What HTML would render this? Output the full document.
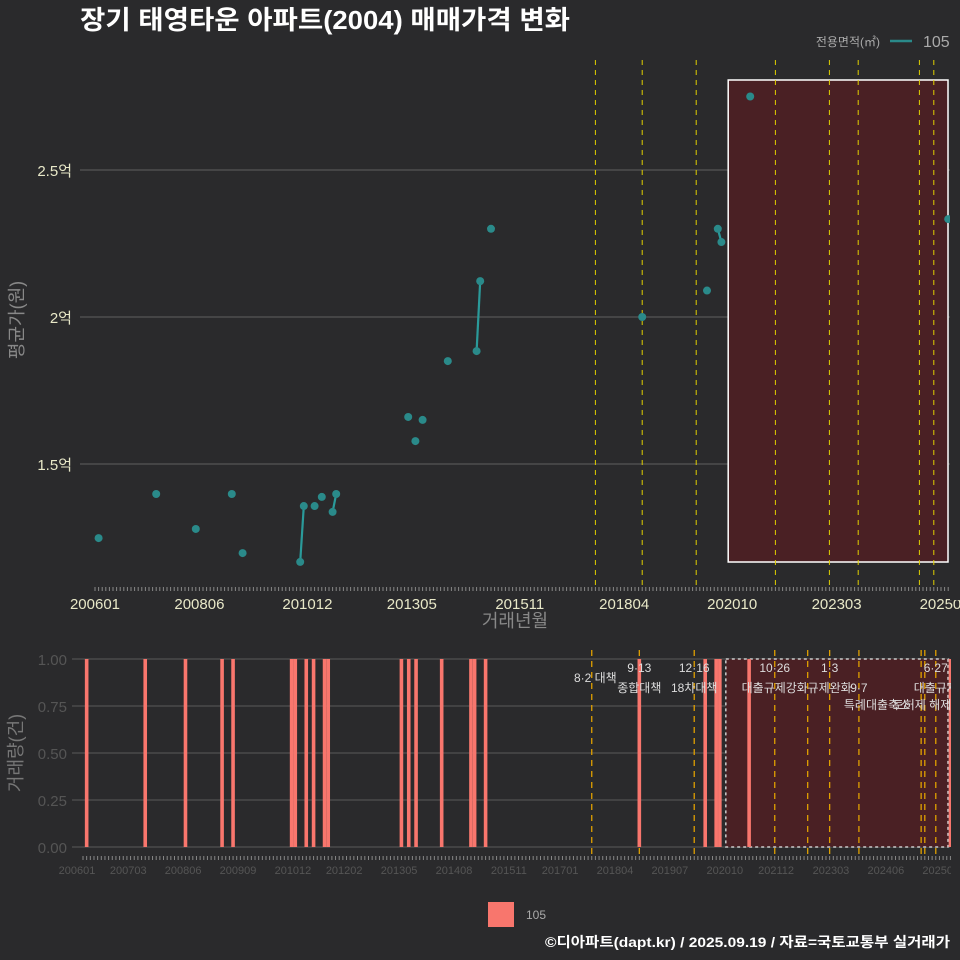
<!DOCTYPE html>
<html><head><meta charset="utf-8">
<style>
html,body{margin:0;padding:0;background:#2a2a2c;}
svg{display:block;font-family:"Liberation Sans","Noto Sans CJK KR",sans-serif;}
</style></head>
<body>
<svg id="c" width="960" height="960" viewBox="0 0 960 960" xmlns="http://www.w3.org/2000/svg">
<rect width="960" height="960" fill="#2a2a2c"/>
<text x="80" y="29" fill="#ffffff" font-size="26" font-weight="bold" textLength="490" lengthAdjust="spacingAndGlyphs">장기 태영타운 아파트(2004) 매매가격 변화</text>
<g>
<text x="880" y="46" fill="#aaaaaa" font-size="12" text-anchor="end">전용면적(㎡)</text>
<line x1="890" y1="41" x2="912" y2="41" stroke="#2a8a8a" stroke-width="2.5"/>
<text x="923" y="47" fill="#aaaaaa" font-size="16">105</text>
</g>
<g id="topPanel"></g>
<g id="botPanel"></g>
<g>
<rect x="488" y="902" width="26" height="25" fill="#f8766d"/>
<text x="526" y="919" fill="#aaaaaa" font-size="12">105</text>
</g>
<text x="950" y="947" fill="#ffffff" font-size="14" font-weight="bold" text-anchor="end" textLength="405" lengthAdjust="spacingAndGlyphs">©디아파트(dapt.kr) / 2025.09.19 / 자료=국토교통부 실거래가</text>
</svg>
<script>
// month index from 2006-01
const tradeMonths = [1,17,28,38,41,57,58,61,63,66,67,87,89,91,98,106,107,110,152,170,173,174,182,237];
const tradePrices = [1.248,1.398,1.279,1.398,1.197,1.167,1.357,1.357,1.388,1.337,1.398,1.66,1.578,1.65,1.85,1.884,2.122,2.30,2.0,2.09,2.30,2.255,2.75,2.333];
const tradeCounts = [1,1,1,1,1,1,1,1,1,1,1,1,1,1,1,1,1,1,1,1,1,1,1,1];
const priceTicks = [1.5,2,2.5];
const priceTickLabels = ["1.5억","2억","2.5억"];
const volTicks = [0,0.25,0.5,0.75,1];
const volTickLabels = ["0.00","0.25","0.50","0.75","1.00"];
const topLabelMonths = [0,29,59,88,118,147,177,206,236];
const topLabels = ["200601","200806","201012","201305","201511","201804","202010","202303","202509"];
const botLabelMonths = [0,14,29,44,59,73,88,103,118,132,147,162,177,191,206,221,236];
const botLabels = ["200601","200703","200806","200909","201012","201202","201305","201408","201511","201701","201804","201907","202010","202112","202303","202406","202509"];
const policyMonths = [139,152,167,189,204,212,229,233];
const policyTop = ["","9·13","12·16","10·26","1·3","","","6·27"];
const policyBottom = ["8·2 대책","종합대책","18차대책","대출규제강화","규제완화","9·7","","대출규제"];
const extraBotLines = [198,230];
const shadeStart = 177;

const NS="http://www.w3.org/2000/svg";
function mk(parent,tag,attrs){const e=document.createElementNS(NS,tag);for(const k in attrs)e.setAttribute(k,attrs[k]);parent.appendChild(e);return e;}
const xT = m => 95 + m*3.6;
const yT = v => 317 - (v-2)*294;
const xB = m => 83 + m*3.66;
const yB = v => 847 - v*188;
const topG=document.getElementById('topPanel'), botG=document.getElementById('botPanel');

priceTicks.forEach((t,i)=>{
  const g=mk(topG,'line',{x1:80,x2:950,y1:yT(t),y2:yT(t),stroke:'#606060','stroke-width':1});
  
  
  const l=mk(topG,'text',{x:72,y:yT(t)+6,fill:'#e8e8c8','font-size':15,'text-anchor':'end'});
  l.textContent=priceTickLabels[i];
  
  
});
const sh=mk(topG,'rect',{x:xT(shadeStart)-4,y:80,width:948-xT(shadeStart)+4,height:482,fill:'#4a2024',stroke:'#ffffff','stroke-width':1.5});


policyMonths.forEach(m=>{
  const l=mk(topG,'line',{x1:xT(m),x2:xT(m),y1:60,y2:590,stroke:'#e0d000','stroke-width':1,'stroke-dasharray':'5,5'});
  
  
});
for(let m=0;m<=240;m+=1){
  const t=mk(topG,'line',{x1:xT(m),x2:xT(m),y1:587,y2:591,stroke:'#888','stroke-width':1});
  
  
}
topLabelMonths.forEach((m,i)=>{
  const l=mk(topG,'text',{x:xT(m),y:609,fill:'#e8e8c8','font-size':15,'text-anchor':'middle'});
  l.textContent=topLabels[i];
  
  
});
{const l=mk(topG,'text',{x:515,y:627,fill:'#888','font-size':18,'text-anchor':'middle'});l.textContent='거래년월';

}
{const l=mk(topG,'text',{x:0,y:0,fill:'#888','font-size':18,'text-anchor':'middle',transform:'translate(23,320) rotate(-90)'});l.textContent='평균가(원)';

}
for(let i=1;i<tradeMonths.length;i++){
  if(tradeMonths[i]-tradeMonths[i-1]===1){
    const l=mk(topG,'line',{x1:xT(tradeMonths[i-1]),y1:yT(tradePrices[i-1]),x2:xT(tradeMonths[i]),y2:yT(tradePrices[i]),stroke:'#2a9a9a','stroke-width':2.2});
    
    
  }
}
tradeMonths.forEach((m,i)=>{
  const c=mk(topG,'circle',{cx:xT(m),cy:yT(tradePrices[i]),r:4,fill:'#2a8a8a'});
  
  
});
mk(topG,'rect',{x:950,y:50,width:10,height:550,fill:'#2a2a2c'});

volTicks.forEach((t,i)=>{
  const g=mk(botG,'line',{x1:72,x2:950,y1:yB(t),y2:yB(t),stroke:'#5a5a5a','stroke-width':1});
  
  
  const l=mk(botG,'text',{x:67,y:yB(t)+6,fill:'#555','font-size':15,'text-anchor':'end'});
  l.textContent=volTickLabels[i];
  
  
});
const sb=mk(botG,'rect',{x:xB(shadeStart)-5,y:659,width:948-xB(shadeStart)+5,height:188,fill:'#4a2024',stroke:'#cccccc','stroke-width':1.5,'stroke-dasharray':'3,3'});


policyMonths.concat(extraBotLines).forEach(m=>{
  const l=mk(botG,'line',{x1:xB(m),x2:xB(m),y1:650,y2:858,stroke:'#e0a000','stroke-width':1.3,'stroke-dasharray':'6,5'});
  
  
});
tradeMonths.forEach((m,i)=>{
  const b=mk(botG,'rect',{x:xB(m)-1.8,y:yB(tradeCounts[i]),width:3.6,height:yB(0)-yB(tradeCounts[i]),fill:'#f8766d'});
  
  
});
policyMonths.forEach((m,i)=>{
  if(policyTop[i]){const t=mk(botG,'text',{x:xB(m),y:672,fill:'#dddddd','font-size':12,'text-anchor':'middle'});t.textContent=policyTop[i];
  
  }
  if(policyBottom[i]){
    let y=692, x=xB(m);
    if(i===0){y=682;x=xB(m)+25;}
    const t=mk(botG,'text',{x:x,y:y,fill:'#dddddd','font-size':12,'text-anchor':i===0?'end':'middle'});
    t.textContent=policyBottom[i];
    
    
  }
});
{const t=mk(botG,'text',{x:877,y:709,fill:'#dddddd','font-size':12,'text-anchor':'middle'});t.textContent='특례대출축소';

}
{const t=mk(botG,'text',{x:922,y:709,fill:'#dddddd','font-size':12,'text-anchor':'middle'});t.textContent='토허제 해제';

}
for(let m=0;m<=240;m+=1){
  const t=mk(botG,'line',{x1:xB(m),x2:xB(m),y1:856,y2:860,stroke:'#888','stroke-width':1});
  
  
}
botLabelMonths.forEach((m,i)=>{
  const l=mk(botG,'text',{x:xB(m)-6,y:874,fill:'#555','font-size':11,'text-anchor':'middle'});
  l.textContent=botLabels[i];
  
  
});
mk(botG,'rect',{x:951,y:640,width:9,height:245,fill:'#2a2a2c'});
{const l=mk(botG,'text',{x:0,y:0,fill:'#777','font-size':18,'text-anchor':'middle',transform:'translate(22,753) rotate(-90)'});l.textContent='거래량(건)';

}
</script>
</body></html>
